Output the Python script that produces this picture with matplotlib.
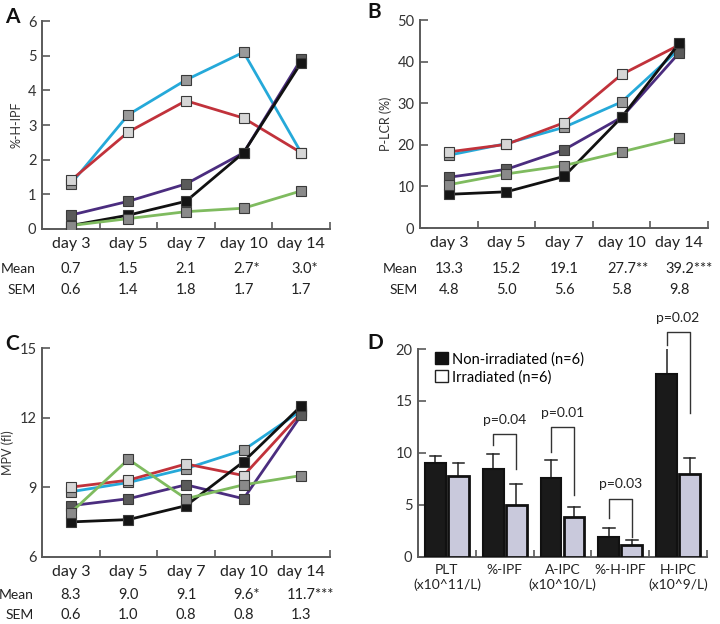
import matplotlib
matplotlib.use("Agg")
import matplotlib.pyplot as plt
from matplotlib.patches import Patch
from matplotlib.transforms import blended_transform_factory
import numpy as np

plt.rcParams['font.family'] = ['Lato', 'DejaVu Sans']

days = ['day 3', 'day 5', 'day 7', 'day 10', 'day 14']
series_names = ['cyan', 'red', 'purple', 'black', 'green']
line_colors = ['#25a9d9', '#c1323b', '#4b2d7f', '#111111', '#7fbb5f']
marker_faces = ['#9a9a9a', '#d6d6d6', '#5a5a5a', '#151515', '#8a8a8a']

# Panel A: %-H-IPF
a_cyan = [1.3, 3.3, 4.3, 5.1, 2.2]
a_red = [1.4, 2.8, 3.7, 3.2, 2.2]
a_purple = [0.4, 0.8, 1.3, 2.2, 4.9]
a_black = [0.1, 0.4, 0.8, 2.2, 4.8]
a_green = [0.1, 0.3, 0.5, 0.6, 1.1]
a_mean = ['0.7', '1.5', '2.1', '2.7*', '3.0*']
a_sem = ['0.6', '1.4', '1.8', '1.7', '1.7']

# Panel B: P-LCR (%)
b_cyan = [17.5, 20.3, 24.2, 30.3, 43.0]
b_red = [18.3, 20.1, 25.3, 36.9, 44.0]
b_purple = [12.2, 14.1, 18.8, 26.6, 42.1]
b_black = [8.1, 8.7, 12.4, 26.6, 44.4]
b_green = [10.4, 13.0, 15.0, 18.3, 21.7]
b_mean = ['13.3', '15.2', '19.1', '27.7**', '39.2***']
b_sem = ['4.8', '5.0', '5.6', '5.8', '9.8']

# Panel C: MPV (fl)
c_cyan = [8.8, 9.2, 9.8, 10.6, 12.3]
c_red = [9.0, 9.3, 10.0, 9.5, 12.2]
c_purple = [8.2, 8.5, 9.1, 8.5, 12.1]
c_black = [7.5, 7.6, 8.2, 10.1, 12.5]
c_green = [7.9, 10.2, 8.5, 9.1, 9.5]
c_mean = ['8.3', '9.0', '9.1', '9.6*', '11.7***']
c_sem = ['0.6', '1.0', '0.8', '0.8', '1.3']

# Panel D: bars
d_cats = ['PLT\n(x10^11/L)', '%-IPF', 'A-IPC\n(x10^10/L)', '%-H-IPF', 'H-IPC\n(x10^9/L)']
d_non = [9.0, 8.4, 7.6, 1.9, 17.6]
d_non_err = [0.7, 1.5, 1.7, 0.9, 2.5]
d_irr = [7.8, 5.0, 3.8, 1.1, 8.0]
d_irr_err = [1.2, 2.0, 1.0, 0.5, 1.5]
d_pvals = [None, 'p=0.04', 'p=0.01', 'p=0.03', 'p=0.02']
d_br_top = [None, 11.8, 12.5, 5.6, 21.6]
d_br_left = [None, 10.8, 10.1, 3.7, 20.4]
d_br_right = [None, 8.4, 5.9, 1.9, 13.8]

W, H = 720, 624
fig = plt.figure(figsize=(7.2, 6.24), dpi=100)

def fx(px):
    return px / W

def fy(py):
    return 1 - py / H

spine_col = '#5a5a5a'
x = np.arange(5)

def style_axes(ax):
    for s in ['top', 'right']:
        ax.spines[s].set_visible(False)
    for s in ['left', 'bottom']:
        ax.spines[s].set_color(spine_col)
        ax.spines[s].set_linewidth(1.4)
    ax.set_xlim(-0.5, 4.5)
    ax.set_xticks([0.5, 1.5, 2.5, 3.5, 4.5])
    ax.set_xticklabels([])
    ax.tick_params(axis='x', which='major', direction='in', length=5, width=1.2, color=spine_col)
    ax.tick_params(axis='y', which='major', direction='in', length=6, width=1.2, color=spine_col,
                   labelsize=10.5, pad=4, labelcolor='#333333')

def line_panel(rect, series, ylim, yticks, ylabel, means, sems, row_y, label_right, letter, letter_xy):
    ax = fig.add_axes(rect)
    style_axes(ax)
    order = [0, 1, 2, 4, 3]
    for i in order:
        ax.plot(x, series[i], color=line_colors[i], lw=2.0, marker='s', ms=7,
                mfc=marker_faces[i], mec='#3a3a3a', mew=0.8, zorder=3 + i)
    ax.set_ylim(*ylim)
    ax.set_yticks(yticks)
    ax.set_xticks(x, minor=True)
    ax.set_xticklabels(days, minor=True, fontsize=11.5, color='#222222')
    ax.tick_params(axis='x', which='minor', length=0, pad=6)
    ax.set_ylabel(ylabel, fontsize=9, color='#333333', labelpad=4)
    tr = blended_transform_factory(ax.transData, fig.transFigure)
    for row, vals in zip(row_y, [means, sems]):
        for xi, v in zip(x, vals):
            stars = len(v) - len(v.rstrip('*'))
            ax.text(xi + 0.055 * stars, fy(row), v, transform=tr, ha='center', va='center',
                    fontsize=10.5, color='#222222')
    fig.text(fx(label_right), fy(row_y[0]), 'Mean', ha='right', va='center', fontsize=10, color='#222222')
    fig.text(fx(label_right), fy(row_y[1]), 'SEM', ha='right', va='center', fontsize=10, color='#222222')
    fig.text(fx(letter_xy[0]), fy(letter_xy[1]), letter, ha='left', va='center', fontsize=15,
             fontweight='bold', color='#111111')
    return ax

# A
line_panel([fx(42), fy(229), fx(288), 208 / H],
           [a_cyan, a_red, a_purple, a_black, a_green], (0, 6), range(0, 7), '%-H-IPF',
           a_mean, a_sem, (269, 290), 36, 'A', (5, 17))
# B
line_panel([fx(420), fy(228), fx(288), 208 / H],
           [b_cyan, b_red, b_purple, b_black, b_green], (0, 50), range(0, 51, 10), 'P-LCR (%)',
           b_mean, b_sem, (269, 290), 418, 'B', (367, 12))
# C
line_panel([fx(42), fy(556.7), fx(288), 208.7 / H],
           [c_cyan, c_red, c_purple, c_black, c_green], (6, 15), [6, 9, 12, 15], 'MPV (fl)',
           c_mean, c_sem, (595, 615), 34, 'C', (5, 344))

# D
axd = fig.add_axes([fx(418), fy(556.7), fx(289), 207.7 / H])
style_axes(axd)
bw = 0.36
off = 0.2
axd.bar(x - off, d_non, bw, color='#1a1a1a', edgecolor='#111111', lw=1.5, zorder=3)
axd.bar(x + off, d_irr, bw, color='#c9c9dc', edgecolor='#111111', lw=2.0, zorder=3)
for xi, v, e in zip(x - off, d_non, d_non_err):
    axd.plot([xi, xi], [v, v + e], color='#222222', lw=1.1, zorder=2)
    axd.plot([xi - 0.1, xi + 0.1], [v + e, v + e], color='#222222', lw=1.1, zorder=2)
for xi, v, e in zip(x + off, d_irr, d_irr_err):
    axd.plot([xi, xi], [v, v + e], color='#222222', lw=1.1, zorder=2)
    axd.plot([xi - 0.1, xi + 0.1], [v + e, v + e], color='#222222', lw=1.1, zorder=2)
for i in range(5):
    if d_pvals[i] is None:
        continue
    xl, xr = i - off, i + off
    axd.plot([xl, xl, xr, xr], [d_br_left[i], d_br_top[i], d_br_top[i], d_br_right[i]],
             color='#333333', lw=1.0, clip_on=False)
    axd.text(i, d_br_top[i] + 0.8, d_pvals[i], ha='center', va='bottom', fontsize=10,
             color='#222222', clip_on=False)
axd.set_ylim(0, 20)
axd.set_yticks([0, 5, 10, 15, 20])
axd.set_xticks(x, minor=True)
axd.set_xticklabels(d_cats, minor=True, fontsize=10, color='#222222', linespacing=1.3)
axd.tick_params(axis='x', which='minor', length=0, pad=5)
handles = [Patch(facecolor='#111111', edgecolor='#111111'),
           Patch(facecolor='white', edgecolor='#222222', lw=1.0)]
axd.legend(handles, ['Non-irradiated (n=6)', 'Irradiated (n=6)'], loc='upper left',
           bbox_to_anchor=(0.06, 0.985), frameon=False, fontsize=10.5, handlelength=0.9,
           handleheight=0.9, handletextpad=0.25, labelspacing=0.25, borderpad=0, borderaxespad=0)
fig.text(fx(367), fy(343), 'D', ha='left', va='center', fontsize=15, fontweight='bold', color='#111111')

fig.savefig('out.png', dpi=100)
